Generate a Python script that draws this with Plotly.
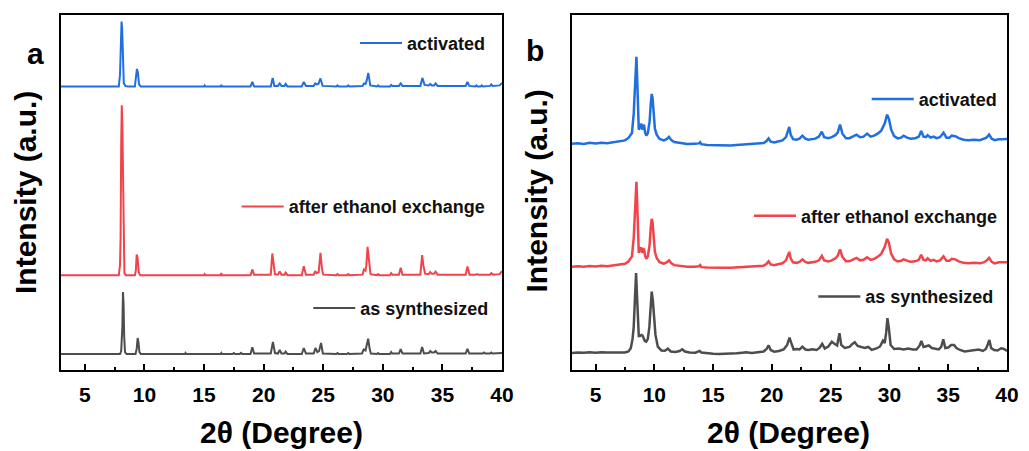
import plotly.graph_objects as go

# ---------------- data ----------------
# 2theta (deg), intensity above each pattern's own baseline (a.u.)
SERIES_NAMES = ["activated", "after ethanol exchange", "as synthesized"]
COLORS = ["#1f6fe0", "#f2434b", "#4d4d4d"]

# panel a: stacking offsets (a.u.)
A_OFFSETS = [284, 95, 16]
A_ACTIVATED = [
    (3.0, 0), (7.85, 0), (7.95, 12), (8.0, 40), (8.08, 65), (8.13, 58), (8.2, 30), (8.27, 3),
    (8.4, 0.5), (8.6, 0), (9.2, 0), (9.3, 8), (9.37, 17.5), (9.45, 14), (9.55, 2), (9.7, 0),
    (15.0, 0), (15.05, 1), (15.1, 0), (16.4, 0), (16.45, 1.5), (16.5, 0),
    (18.9, 0), (19.05, 4.5), (19.2, 0), (20.6, 0), (20.76, 8.5), (20.9, 0.5),
    (21.2, 0.5), (21.35, 3), (21.5, 0.5), (21.75, 0.5), (21.85, 2.5), (22.0, 0),
    (23.2, 0), (23.37, 4.5), (23.55, 0.5), (24.2, 0.5), (24.33, 3), (24.45, 2), (24.6, 2.5),
    (24.77, 8), (24.95, 0.5), (26.1, 0), (26.2, 1), (26.3, 0), (27.0, 0), (27.1, 1), (27.2, 0),
    (28.3, 0.5), (28.42, 3), (28.55, 2.5), (28.65, 6), (28.78, 13.5), (28.95, 1),
    (29.5, 0), (29.6, 1), (29.7, 0), (30.6, 0), (30.7, 1.5), (30.8, 0.5),
    (31.35, 0.5), (31.5, 3), (31.65, 0.5), (33.15, 0.5), (33.32, 8.5), (33.5, 1.5),
    (33.85, 1), (33.98, 2.5), (34.1, 1), (34.3, 1), (34.43, 3), (34.6, 0.5),
    (36.95, 0.5), (37.1, 4.5), (37.25, 0.5), (37.75, 0), (37.85, 1), (37.95, 0),
    (38.2, 0), (38.3, 1), (38.4, 0), (39.0, 0.5), (39.1, 2), (39.2, 0.5), (39.8, 1), (40.0, 3.5),
]
A_ETHANOL = [
    (3.0, 0), (7.85, 0), (7.95, 10), (8.0, 37), (8.05, 131), (8.1, 170), (8.15, 150), (8.2, 94),
    (8.25, 16), (8.32, 2), (8.45, 0), (9.2, 0), (9.28, 5), (9.35, 20.7), (9.43, 17), (9.52, 3),
    (9.65, 0), (15.0, 0), (15.05, 1), (15.1, 0), (16.4, 0), (16.45, 2), (16.5, 0),
    (18.9, 0), (19.05, 5.7), (19.2, 0.5), (20.6, 0.5), (20.73, 21.7), (20.83, 12), (20.95, 1),
    (21.2, 0.5), (21.35, 3.7), (21.5, 0.5), (21.75, 0.5), (21.85, 2.5), (22.0, 0),
    (23.2, 0), (23.37, 9), (23.55, 0.5), (24.2, 0.5), (24.33, 4), (24.45, 2), (24.62, 3),
    (24.77, 22.3), (24.9, 6), (25.0, 0.5), (26.1, 0), (26.2, 1), (26.3, 0),
    (27.0, 0), (27.1, 1), (27.2, 0), (28.3, 0.5), (28.42, 5.7), (28.55, 4.5), (28.62, 10),
    (28.72, 28.3), (28.85, 10), (28.97, 1), (29.5, 0), (29.6, 1), (29.7, 0),
    (30.6, 0), (30.7, 2), (30.8, 0.5), (31.35, 0.5), (31.5, 7.3), (31.65, 0.5),
    (33.15, 0.5), (33.3, 20), (33.4, 10), (33.55, 1.5), (33.85, 1), (33.98, 3), (34.1, 1.5),
    (34.3, 1.5), (34.43, 3.5), (34.6, 0.5), (36.95, 0.5), (37.1, 8.7), (37.28, 0.5),
    (37.8, 0.5), (37.9, 1), (38.0, 0.5), (39.0, 0.5), (39.1, 2), (39.25, 0.5), (39.8, 1), (40.0, 4),
]
A_SYNTH = [
    (3.0, 0), (7.95, 0), (8.05, 3), (8.1, 18), (8.15, 27.6), (8.2, 62), (8.25, 50), (8.3, 18),
    (8.37, 2), (8.5, 0), (9.25, 0), (9.35, 5), (9.43, 16), (9.5, 12), (9.58, 2), (9.7, 0),
    (13.4, 0), (13.45, 1), (13.5, 0), (16.4, 0), (16.45, 1), (16.5, 0), (17.4, 0), (17.5, 1),
    (17.6, 0), (18.0, 0), (18.1, 1.2), (18.2, 0), (18.9, 0), (19.05, 6.7), (19.2, 0.5),
    (20.6, 0.5), (20.78, 12), (20.95, 1), (21.2, 0.5), (21.35, 4), (21.5, 0.5),
    (21.75, 0.5), (21.85, 2.5), (22.0, 0), (23.2, 0), (23.37, 6), (23.55, 0.5),
    (24.2, 0.5), (24.35, 6), (24.5, 2), (24.65, 3), (24.82, 11), (24.97, 0.5),
    (26.1, 0), (26.2, 1), (26.3, 0), (27.0, 0), (27.1, 1), (27.2, 0),
    (28.25, 0.5), (28.4, 4.5), (28.55, 3.5), (28.65, 8), (28.77, 15.3), (28.9, 5), (29.0, 0.5),
    (29.5, 0), (29.6, 1), (29.7, 0), (30.6, 0), (30.7, 2), (30.8, 0.5),
    (31.35, 0.5), (31.5, 5), (31.65, 0.5), (33.15, 0.5), (33.3, 7), (33.45, 0.5),
    (33.85, 1), (33.98, 3), (34.1, 1.5), (34.3, 1.5), (34.43, 3), (34.6, 0.5),
    (36.95, 0.5), (37.1, 5.3), (37.25, 0.5), (38.4, 0.5), (38.5, 1.5), (38.6, 0.5),
    (39.0, 0.5), (39.1, 1.5), (39.2, 0.5), (39.8, 0.5), (40.0, 1),
]

# panel b: stacking offsets (a.u.)
B_OFFSETS = [226, 103, 17]
B_ACTIVATED = [
    (3.0, 0), (3.5, 0.5), (4.0, -0.3), (4.5, 0.8), (5.0, 0.2), (5.5, 1.0), (6.0, 0.5), (6.5, 1.5),
    (7.0, 2.0), (7.5, 3.3), (7.8, 5.7), (8.1, 10.7), (8.25, 30), (8.35, 55), (8.42, 80),
    (8.48, 86.7), (8.53, 70), (8.6, 44), (8.68, 14), (8.75, 16), (8.82, 18), (8.9, 20),
    (8.97, 14), (9.05, 17), (9.12, 19), (9.22, 11), (9.32, 8), (9.45, 10.7), (9.6, 22),
    (9.7, 40), (9.78, 49.7), (9.85, 46), (9.95, 30), (10.05, 15), (10.2, 9), (10.45, 4.7),
    (10.8, 3.3), (11.05, 4.5), (11.25, 6.7), (11.45, 3.5), (11.7, 1.7), (12.2, 0.5),
    (12.8, -0.3), (13.4, 0), (13.8, 0.3), (13.9, 1.5), (14.0, -0.5), (14.5, -1.2), (15.0, -1.5),
    (15.5, -1.8), (16.0, -1.7), (16.5, -1.8), (17.0, -1.3), (17.5, -1.0), (17.8, -0.7),
    (18.3, -0.6), (18.8, 0), (19.3, 0.7), (19.55, 2.7), (19.72, 5.3), (19.9, 2.0), (20.2, 1.3),
    (20.6, 2.5), (20.9, 3.3), (21.2, 6.5), (21.38, 13), (21.48, 16.7), (21.6, 9), (21.8, 4.5),
    (22.1, 4), (22.35, 5), (22.6, 8), (22.85, 5), (23.1, 4), (23.4, 4.5), (23.7, 5), (24.0, 7),
    (24.25, 12), (24.45, 6.5), (24.8, 5.5), (25.1, 6.5), (25.4, 8.5), (25.6, 11), (25.8, 19),
    (26.0, 10), (26.3, 5.5), (26.6, 5.5), (26.95, 7.5), (27.2, 9), (27.5, 6.5), (27.8, 7),
    (28.1, 10), (28.4, 7), (28.7, 8), (29.0, 10), (29.3, 13), (29.6, 20), (29.8, 29),
    (29.95, 25), (30.15, 14), (30.4, 7.5), (30.7, 5.3), (31.0, 6), (31.2, 8), (31.5, 6),
    (31.8, 5), (32.2, 5.5), (32.5, 7), (32.7, 12.7), (32.9, 7), (33.1, 6.5), (33.25, 8.5),
    (33.5, 6), (33.75, 7), (34.0, 5.5), (34.3, 6.5), (34.6, 11), (34.85, 6), (35.1, 6),
    (35.3, 8), (35.6, 7.5), (35.9, 5.5), (36.3, 4), (36.7, 3.5), (37.2, 4), (37.7, 3.5),
    (38.0, 4.5), (38.25, 6), (38.48, 9), (38.7, 5), (38.95, 3.5), (39.3, 4.5), (39.6, 4.5),
    (40.0, 4.7),
]
B_ETHANOL = [
    (3.0, 0), (3.5, 0.6), (4.0, 0.1), (4.5, 0.9), (5.0, 0.4), (5.5, 1.1), (6.0, 0.6), (6.5, 1.4),
    (7.0, 2.0), (7.5, 3.0), (7.8, 5.3), (8.1, 10.5), (8.25, 29), (8.35, 54), (8.42, 79),
    (8.48, 85), (8.53, 69), (8.6, 43), (8.68, 14), (8.75, 16), (8.82, 18), (8.9, 19.5),
    (8.97, 14), (9.05, 16.5), (9.12, 18.5), (9.22, 11), (9.32, 8), (9.45, 10.5), (9.6, 22),
    (9.7, 40), (9.78, 48), (9.85, 45), (9.95, 29), (10.05, 15), (10.2, 9), (10.45, 4.7),
    (10.8, 3.3), (11.05, 4.5), (11.25, 6.5), (11.45, 3.5), (11.7, 1.7), (12.2, 0.6),
    (12.8, 0), (13.4, 0.2), (13.8, 0.5), (13.9, 1.7), (14.0, -0.3), (14.5, -0.7), (15.0, -1.0),
    (15.5, -1.1), (16.0, -0.9), (16.5, -1.0), (17.0, -0.6), (17.5, -0.3), (17.8, 0),
    (18.3, 0), (18.8, 0.5), (19.3, 1.2), (19.55, 3.0), (19.72, 5.5), (19.9, 2.4), (20.2, 1.7),
    (20.6, 2.8), (20.9, 3.6), (21.2, 6.5), (21.38, 12), (21.48, 15), (21.6, 8.5), (21.8, 4.5),
    (22.1, 4), (22.35, 5), (22.6, 7.5), (22.85, 5), (23.1, 4), (23.4, 4.5), (23.7, 5),
    (24.0, 6.5), (24.25, 11), (24.45, 6.5), (24.8, 5.5), (25.1, 6.5), (25.4, 8.5), (25.6, 11),
    (25.8, 17.5), (26.0, 10), (26.3, 5.5), (26.6, 5.5), (26.95, 7.5), (27.2, 9), (27.5, 6.5),
    (27.8, 7), (28.1, 9.5), (28.4, 7), (28.7, 8), (29.0, 10), (29.3, 13), (29.6, 20),
    (29.8, 28), (29.95, 24), (30.15, 13), (30.4, 7.5), (30.7, 5.3), (31.0, 6), (31.2, 7.5),
    (31.5, 6), (31.8, 5), (32.2, 5.5), (32.5, 7), (32.7, 12), (32.9, 7), (33.1, 6.5),
    (33.25, 8.5), (33.5, 6), (33.75, 7), (34.0, 5.5), (34.3, 6.5), (34.6, 10.5), (34.85, 6),
    (35.1, 6), (35.3, 8), (35.6, 7.5), (35.9, 5.5), (36.3, 4), (36.7, 3.5), (37.2, 4),
    (37.7, 3.5), (38.0, 4.5), (38.25, 6), (38.48, 9), (38.7, 5), (38.95, 3.5), (39.3, 4.5),
    (39.6, 4.5), (40.0, 4.5),
]
B_SYNTH = [
    (3.0, 0), (3.5, 0.5), (4.0, 0.2), (4.5, 0.7), (5.0, 0.3), (5.5, 0.8), (6.0, 0.4), (6.5, 0.6),
    (7.0, 0.3), (7.5, 0.5), (7.8, 1.5), (8.0, 4.7), (8.15, 14), (8.25, 26), (8.32, 45),
    (8.38, 70), (8.45, 79.7), (8.52, 60), (8.6, 30), (8.68, 17), (8.78, 17), (8.9, 18),
    (9.0, 17.3), (9.1, 15), (9.2, 12), (9.32, 11.3), (9.45, 14), (9.58, 26), (9.68, 45),
    (9.78, 61.3), (9.88, 52), (9.98, 35), (10.1, 18), (10.3, 6.3), (10.6, 2.5), (10.9, 2.3),
    (11.15, 4.3), (11.4, 1.5), (11.8, 1), (12.15, 2), (12.38, 3.7), (12.6, 1.5), (13.0, 0.5),
    (13.5, 0.3), (13.85, 2), (14.0, 0.5), (14.5, -0.5), (15.0, -0.8), (15.5, -1), (16.0, -1),
    (16.5, -0.8), (17.0, -0.3), (17.5, 0.3), (17.8, 0.7), (18.3, 0), (18.8, 0.5), (19.3, 1.5),
    (19.55, 4), (19.72, 7.7), (19.9, 3), (20.2, 1.2), (20.6, 2), (21.0, 3.5), (21.3, 8),
    (21.5, 15.3), (21.65, 10), (21.85, 3.5), (22.1, 4), (22.35, 3.5), (22.6, 6.3), (22.85, 3.5),
    (23.1, 3), (23.45, 3.8), (23.8, 3), (24.05, 5), (24.28, 9), (24.5, 4.5), (24.8, 6.5),
    (25.1, 11.3), (25.35, 9), (25.55, 7.5), (25.75, 19.7), (25.9, 8), (26.2, 5), (26.6, 6),
    (26.85, 9), (27.05, 10.7), (27.3, 7), (27.6, 6), (27.9, 5), (28.2, 6), (28.5, 3),
    (28.9, 4.5), (29.2, 6.5), (29.45, 12.3), (29.6, 10), (29.72, 20), (29.83, 34.7),
    (29.95, 25), (30.1, 8), (30.4, 4), (30.8, 4.5), (31.2, 3.5), (31.6, 4.5), (32.0, 3.5),
    (32.3, 3.5), (32.55, 7), (32.72, 12), (32.9, 6), (33.15, 6.5), (33.35, 7.5), (33.6, 5),
    (33.9, 4.5), (34.2, 3.5), (34.4, 6), (34.58, 13.7), (34.75, 5), (35.0, 5.5), (35.25, 8),
    (35.5, 8), (35.7, 5), (36.0, 3), (36.4, 1.5), (36.8, 2), (37.2, 2.5), (37.6, 3.5),
    (37.95, 2), (38.2, 4), (38.38, 9), (38.5, 13), (38.65, 5), (38.9, 3), (39.2, 2.5),
    (39.5, 4.7), (39.75, 4), (40.0, 2),
]

X_TICKS = [5, 10, 15, 20, 25, 30, 35, 40]
X_MINOR = [7.5, 12.5, 17.5, 22.5, 27.5, 32.5, 37.5]
X_RANGE = [3, 40]
PANEL_LABELS = ["a", "b"]
X_TITLE = "2θ (Degree)"
Y_TITLE = "Intensity (a.u.)"

# ---------------- figure ----------------
W, H = 1029, 451
FONT = "Liberation Sans, Arial, sans-serif"

fig = go.Figure()

panels = [
    ("x", "y", A_OFFSETS, [A_ACTIVATED, A_ETHANOL, A_SYNTH], 2.0),
    ("x2", "y2", B_OFFSETS, [B_ACTIVATED, B_ETHANOL, B_SYNTH], 2.5),
]
legend_ids = [["legend", "legend2", "legend3"], ["legend4", "legend5", "legend6"]]

for p, (xa, ya, offs, series, lw) in enumerate(panels):
    for i, s in enumerate(series):
        xs = [pt[0] for pt in s]
        ys = [pt[1] + offs[i] for pt in s]
        fig.add_trace(go.Scatter(
            x=xs, y=ys, mode="lines", name=SERIES_NAMES[i],
            line=dict(color=COLORS[i], width=lw), xaxis=xa, yaxis=ya,
            legend=legend_ids[p][i], showlegend=True,
        ))

ydom = [1 - 370 / H, 1 - 14.5 / H]
axis_common = dict(showline=True, linewidth=2, linecolor="black", mirror=True,
                   showgrid=False, zeroline=False, automargin=False)
xcommon = dict(axis_common, range=X_RANGE, tickvals=X_TICKS, ticks="inside", ticklen=6,
               tickwidth=1.5, tickcolor="black", ticklabelstandoff=5,
               tickfont=dict(family=FONT, size=21, color="black", weight="bold"),
               minor=dict(ticks="inside", ticklen=3.5, tickwidth=1.5, tickcolor="black",
                          tickvals=X_MINOR))
ycommon = dict(axis_common, showticklabels=False, ticks="")

fig.update_layout(
    template="none",
    width=W, height=H, margin=dict(l=0, r=0, t=0, b=0, pad=0, autoexpand=False),
    paper_bgcolor="white", plot_bgcolor="white",
    xaxis=dict(xcommon, domain=[61 / W, 502 / W], anchor="y"),
    yaxis=dict(ycommon, domain=ydom, range=[0, 356], anchor="x"),
    xaxis2=dict(xcommon, domain=[572 / W, 1007 / W], anchor="y2"),
    yaxis2=dict(ycommon, domain=ydom, range=[0, 355], anchor="x2"),
)

# legends (line start x, row centre y, in px)
leg_pos = [(360, 43.3), (241.7, 206.7), (313.3, 308.3),
           (871.7, 99.3), (754, 216), (818.3, 296.7)]
for k, (lx, ly) in enumerate(leg_pos):
    key = "legend" if k == 0 else f"legend{k + 1}"
    fig.update_layout({key: dict(
        x=(lx - 5) / W, y=1 - ly / H, xanchor="left", yanchor="middle",
        bgcolor="rgba(0,0,0,0)", borderwidth=0, itemwidth=42,
        font=dict(family=FONT, size=18, color="#111111", weight="bold"),
    )})

ann = []
for lbl, (ax, ay) in zip(PANEL_LABELS, [(35.5, 53), (535, 51)]):
    ann.append(dict(text=lbl, x=ax / W, y=1 - ay / H, xref="paper", yref="paper",
                    showarrow=False, xanchor="center", yanchor="middle",
                    font=dict(family=FONT, size=30, color="black", weight="bold")))
for (tx, ty) in [(25, 193), (536, 191.5)]:
    ann.append(dict(text=Y_TITLE, x=tx / W, y=1 - ty / H, xref="paper", yref="paper",
                    showarrow=False, textangle=-90, xanchor="center", yanchor="middle",
                    font=dict(family=FONT, size=30, color="black", weight="bold")))
for (tx, ty) in [(281, 432), (788.7, 432)]:
    ann.append(dict(text=X_TITLE, x=tx / W, y=1 - ty / H, xref="paper", yref="paper",
                    showarrow=False, xanchor="center", yanchor="middle",
                    font=dict(family=FONT, size=30, color="black", weight="bold")))
fig.update_layout(annotations=ann)

fig.write_html("out.html")
